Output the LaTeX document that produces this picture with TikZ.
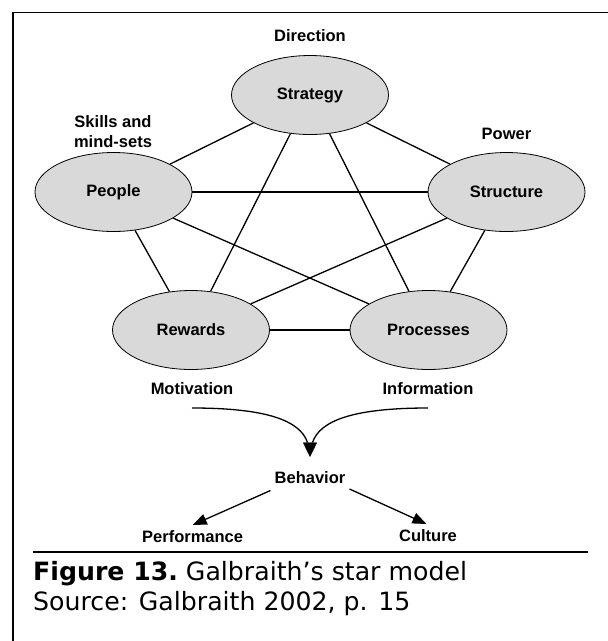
\documentclass[tikz,border=0pt]{standalone}
\usepackage{fontspec}
\setmainfont{Liberation Sans}
\newfontfamily\capfont{DejaVu Sans}
\usetikzlibrary{arrows.meta,shapes.geometric}
\begin{document}
\begin{tikzpicture}[x=1pt,y=-1pt,
  elem/.style={ellipse,draw=black,line width=0.8pt,fill=black!15,
    minimum width=157pt,minimum height=79pt,inner sep=0pt,
    font=\fontsize{16.5}{19}\selectfont\bfseries},
  lbl/.style={inner sep=0pt,align=center,
    font=\fontsize{16.5}{20}\selectfont\bfseries},
  link/.style={line width=1.3pt},
  captext/.style={inner sep=0pt,anchor=base west,font=\fontsize{25.2}{30}\selectfont\capfont}]
\useasboundingbox (0,0) rectangle (608,641);
\fill[white] (0,0) rectangle (608,641);
% frame
\coordinate (fa) at (12.7,641);
\coordinate (fb) at (12.7,12.5);
\coordinate (fc) at (608,12.5);
\draw[line width=1.8pt] (fa) -- (fb) -- (fc);
% nodes
\path (310,95) coordinate (cS) (113.5,192) coordinate (cP) (506.5,192) coordinate (cT)
      (191,330) coordinate (cR) (428.5,330) coordinate (cQ);
\node[elem] (strat) at (cS) {Strategy};
\node[elem] (people) at (cP) {People};
\node[elem] (struct) at (cT) {Structure};
\node[elem] (rew) at (cR) {Rewards};
\node[elem] (proc) at (cQ) {Processes};
\foreach \a/\b in {strat/people,strat/struct,strat/rew,strat/proc,
                   people/struct,people/rew,people/proc,
                   struct/rew,struct/proc,rew/proc}
  \draw[link] (\a) -- (\b);
% labels
\node[lbl] (dir) at (310,36) {Direction};
\node[lbl] (skills) at (113,132) {Skills and\\mind-sets};
\node[lbl] (power) at (506.5,134) {Power};
\node[lbl] (mot) at (192,389) {Motivation};
\node[lbl] (inf) at (428,389) {Information};
\node[lbl] (beh) at (310,478) {Behavior};
\node[lbl] (perf) at (192.6,537) {Performance};
\node[lbl] (cult) at (428,535.7) {Culture};
% curved arrows
\coordinate (ls) at (192,408);
\coordinate (rs) at (428,408);
\coordinate (join) at (310,442.5);
\coordinate (tip) at (310,457);
\draw[link] (ls) .. controls (265,408) and (300,420) .. (307.5,442.5);
\draw[link] (rs) .. controls (355,408) and (320,420) .. (312.5,442.5);
\draw[line width=0.4pt,-{Triangle[width=14pt,length=14.5pt]}] (join) -- (tip);
% behaviour arrows
\coordinate (pa) at (270.5,490.5);
\coordinate (pb) at (192.7,525);
\coordinate (ca) at (349.5,489);
\coordinate (cb) at (426.5,524);
\draw[link,-{Triangle[width=11pt,length=14pt]}] (pa) -- (pb);
\draw[link,-{Triangle[width=11pt,length=14pt]}] (ca) -- (cb);
% rule and caption
\coordinate (ra) at (33,551.7);
\coordinate (rb) at (587.7,551.7);
\draw[line width=2.4pt] (ra) -- (rb);
\node[captext] (cap1) at (33,580) {\bfseries Figure 13.\mdseries\ Galbraith’s star model};
\node[captext] (cap2) at (33,610) {Source: Galbraith 2002, p. 15};
\end{tikzpicture}
\end{document}
